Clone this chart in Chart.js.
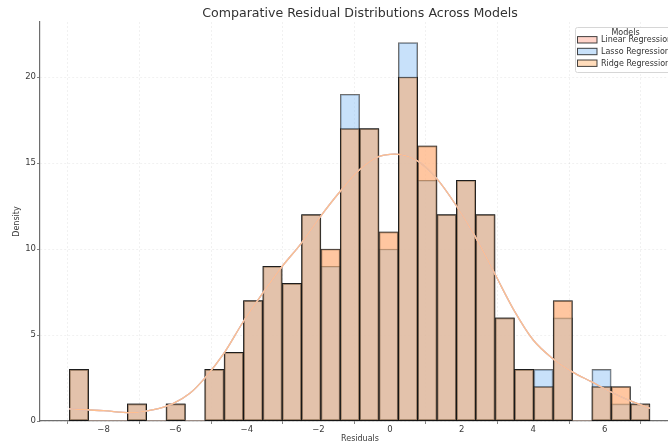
<!DOCTYPE html>
<html><head><meta charset="utf-8">
<script src="https://cdn.jsdelivr.net/npm/chart.js@4.4.1/dist/chart.umd.min.js"></script>
<style>html,body{margin:0;padding:0;background:#fff;overflow:hidden;width:668px;height:444px}canvas{display:block}</style>
</head><body>
<canvas id="c" width="680" height="444"></canvas>
<script>
// ---- data ----
const titleText = 'Comparative Residual Distributions Across Models';
const xLabel = 'Residuals';
const yLabel = 'Density';
const legendTitle = 'Models';
const models = ['Linear Regression', 'Lasso Regression', 'Ridge Regression'];

const binCenters = [-8.690,-8.149,-7.608,-7.068,-6.527,-5.986,-5.446,-4.905,-4.364,-3.824,
  -3.283,-2.742,-2.202,-1.661,-1.120,-0.580,-0.039,0.502,1.042,1.583,
  2.124,2.664,3.205,3.746,4.286,4.827,5.368,5.908,6.449,6.990];
const linearCounts = [3,0,0,1,0,1,0,3,4,7,9,8,12,10,17,17,11,20,16,12,14,12,6,3,2,7,0,2,2,1];
const lassoCounts  = [3,0,0,1,0,1,0,3,4,7,9,8,12,9,19,17,10,22,14,12,14,12,6,3,3,6,0,3,1,1];
const ridgeCounts  = [3,0,0,1,0,1,0,3,4,7,9,8,12,10,17,17,11,20,16,12,14,12,6,3,2,7,0,2,2,1];

const kdeX = [-8.96,-8.0,-7.26,-6.6,-6.05,-5.59,-5.18,-4.64,-4.10,-3.56,-3.02,-2.48,-1.94,-1.40,-0.86,-0.32,0.14,0.76,1.30,1.84,2.38,2.92,3.46,4.00,4.54,5.08,5.62,6.16,6.70,7.26];
const kdeY = [0.70,0.60,0.48,0.66,1.03,1.61,2.48,3.93,5.77,7.42,8.97,10.33,11.90,13.33,14.59,15.37,15.52,15.13,14.11,12.56,10.72,8.59,6.45,4.71,3.64,2.87,2.29,1.70,1.18,0.74];

const xTicks = [-8,-6,-4,-2,0,2,4,6];
const yTicks = [0,5,10,15,20];
const xRange = [-9.777, 8.10];
const yRange = [0, 23.2];

// ---- styles ----
const fills = ['rgba(255,170,150,0.5)','rgba(145,196,245,0.5)','rgba(255,185,120,0.5)'];
const lineColors = ['#FF9F9B','#A1C9F4','#FFBE8E'];
const FONT = '"DejaVu Sans", "Liberation Sans", sans-serif';

const countSets = [linearCounts, lassoCounts, ridgeCounts];
const datasets = [];
countSets.forEach((counts, k) => {
  datasets.push({
    type: 'bar',
    label: models[k],
    data: binCenters.map((x, i) => ({x: x, y: counts[i]})),
    backgroundColor: fills[k],
    borderColor: 'rgba(15,15,15,0.6)',
    borderWidth: c => (c.raw && c.raw.y > 0) ? 1 : 0,
    borderSkipped: false,
    grouped: false,
    barPercentage: 1,
    categoryPercentage: 1,
    order: 3 - k
  });
});
countSets.forEach((counts, k) => {
  datasets.push({
    type: 'line',
    label: models[k] + ' KDE',
    data: kdeX.map((x, i) => ({x: x, y: kdeY[i]})),
    borderColor: lineColors[k],
    borderWidth: 1.3,
    pointRadius: 0,
    fill: false,
    cubicInterpolationMode: 'monotone',
    order: -1 - k
  });
});

const overlay = {
  id: 'overlay',
  afterDraw(chart) {
    const ctx = chart.ctx, a = chart.chartArea;
    ctx.save();
    // title
    ctx.fillStyle = '#333';
    ctx.font = '12.6px ' + FONT;
    ctx.textAlign = 'center';
    ctx.textBaseline = 'middle';
    ctx.fillText(titleText, (a.left + a.right) / 2, 14);
    // legend
    const W = 101, H = 45;
    const lx = a.right - 4 - W, ly = a.top + 5;
    ctx.fillStyle = 'rgba(255,255,255,0.85)';
    ctx.strokeStyle = '#d6d6d6';
    ctx.lineWidth = 1;
    ctx.beginPath();
    ctx.roundRect(lx + 0.5, ly + 0.5, W, H, 2);
    ctx.fill(); ctx.stroke();
    ctx.fillStyle = '#333';
    ctx.font = '8px ' + FONT;
    ctx.fillText(legendTitle, lx + W / 2, ly + 5.5);
    ctx.textAlign = 'left';
    models.forEach((m, k) => {
      const cy = ly + 12.8 + k * 11.7;
      ctx.fillStyle = '#fff';
      ctx.fillRect(lx + 2.5, cy - 3.2, 19.5, 6.4);
      ctx.fillStyle = fills[k];
      ctx.fillRect(lx + 2.5, cy - 3.2, 19.5, 6.4);
      ctx.strokeStyle = 'rgba(20,20,20,0.8)';
      ctx.strokeRect(lx + 2.5, cy - 3.2, 19.5, 6.4);
      ctx.fillStyle = '#333';
      ctx.fillText(m, lx + 26, cy + 0.5);
    });
    ctx.restore();
  }
};

const minus = v => String(v).replace('-', '\u2212');

new Chart(document.getElementById('c'), {
  type: 'bar',
  data: { datasets: datasets },
  options: {
    responsive: false,
    animation: false,
    devicePixelRatio: 1,
    layout: { padding: { top: 22, right: 0, left: 0, bottom: 0 } },
    plugins: { legend: { display: false }, title: { display: false }, tooltip: { enabled: false } },
    scales: {
      x: {
        type: 'linear',
        min: xRange[0], max: xRange[1],
        offset: false,
        afterBuildTicks: s => { s.ticks = xTicks.map(v => ({value: v})); },
        afterFit: s => { s.height = 23; },
        ticks: { color: '#3a3a3a', font: { family: FONT, size: 8.5 }, padding: 1, maxRotation: 0, callback: v => minus(v) },
        grid: { color: 'rgba(0,0,0,0.07)', tickColor: '#666', tickLength: 3, lineWidth: 0.8 },
        border: { color: '#6e6e6e', width: 1.2, dash: [2, 2] },
        title: { display: true, text: xLabel, color: '#3a3a3a', font: { family: FONT, size: 8 }, padding: { top: 0, bottom: 0 } }
      },
      y: {
        min: yRange[0], max: yRange[1],
        afterBuildTicks: s => { s.ticks = yTicks.map(v => ({value: v})); },
        afterFit: s => { s.width = 40; },
        ticks: { color: '#3a3a3a', font: { family: FONT, size: 8.5 }, padding: 1, callback: v => minus(v) },
        grid: { color: 'rgba(0,0,0,0.07)', tickColor: '#666', tickLength: 3, lineWidth: 0.8 },
        border: { color: '#6e6e6e', width: 1.2, dash: [2, 2] },
        title: { display: true, text: yLabel, color: '#3a3a3a', font: { family: FONT, size: 8 }, padding: { top: 12, bottom: 0 } }
      }
    }
  },
  plugins: [overlay]
});
</script>
</body></html>
